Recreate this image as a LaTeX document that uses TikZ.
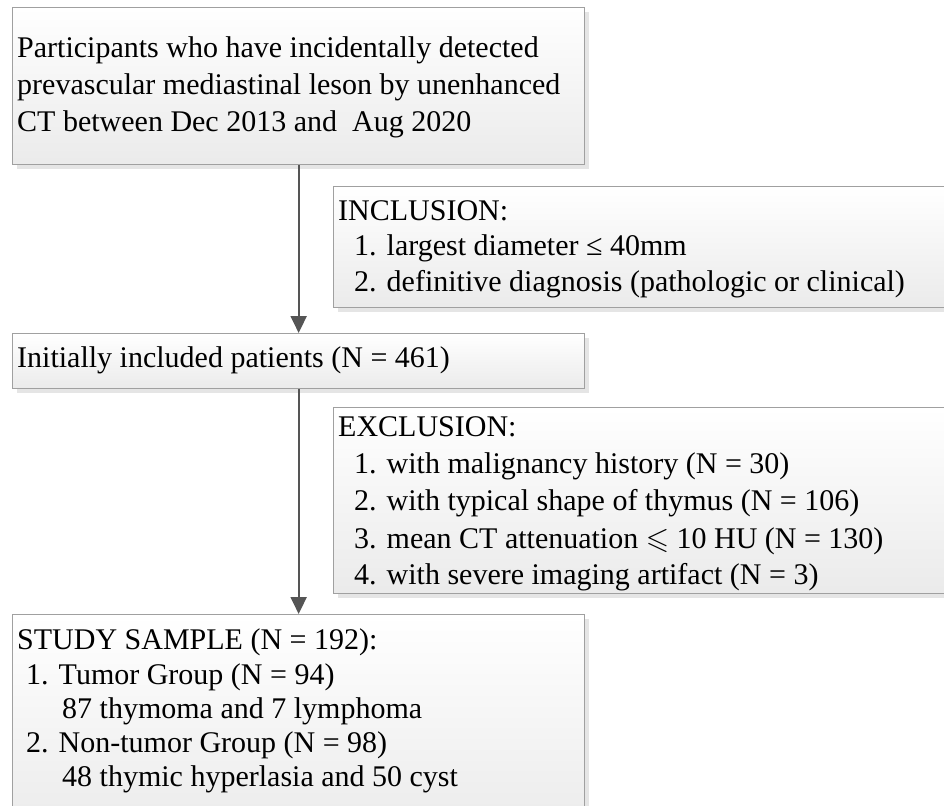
\documentclass[tikz,border=0pt]{standalone}
\usepackage{amssymb}
\usepackage{fontspec}
\setmainfont{Liberation Serif}
\usetikzlibrary{arrows.meta,shadows}
\definecolor{edgec}{HTML}{A0A0A0}
\definecolor{arrowc}{HTML}{555555}
\begin{document}
\begin{tikzpicture}[x=1pt,y=-1pt,
  box/.style={draw=edgec, line width=1.3pt, top color=white, bottom color=black!8,
    anchor=north west, inner sep=0pt,
    drop shadow={shadow xshift=4pt, shadow yshift=-4pt, opacity=1, fill=black!10}},
  txt/.style={anchor=base west, inner sep=0pt, font=\fontsize{30}{36}\selectfont},
  arr/.style={draw=arrowc, line width=2pt, -{Triangle[width=16pt,length=17pt]}}]
\useasboundingbox (0,0) rectangle (944,805);
% boxes
\node[box, minimum width=572pt, minimum height=157pt] (top) at (12,7) {};
\node[box, minimum width=620pt, minimum height=121pt] (inc) at (333,186) {};
\node[box, minimum width=572pt, minimum height=55pt] (init) at (12,333) {};
\node[box, minimum width=620pt, minimum height=186pt] (exc) at (333,407) {};
\node[box, minimum width=572pt, minimum height=220pt] (study) at (12,614) {};
% arrows
\draw[arr] (top) -- (init);
\draw[arr] (init) -- (study);
% texts
\node[txt] (t1) at (17,58) {Participants who have incidentally detected};
\node[txt] (t2) at (17,95) {prevascular mediastinal leson by unenhanced};
\node[txt] (t3) at (17,132) {CT between Dec 2013 and\ \ Aug 2020};
\node[txt] (i0) at (338,220) {INCLUSION:};
\node[txt] (i1) at (354,255) {1. largest diameter ≤ 40mm};
\node[txt] (i2) at (354,291) {2. definitive diagnosis (pathologic or clinical)};
\node[txt] (n0) at (17,367) {Initially included patients (N = 461)};
\node[txt] (e0) at (338,436) {EXCLUSION:};
\node[txt] (e1) at (354,473) {1. with malignancy history (N = 30)};
\node[txt] (e2) at (354,510) {2. with typical shape of thymus (N = 106)};
\node[txt] (e3) at (354,548) {3. mean CT attenuation $\leqslant$ 10 HU (N = 130)};
\node[txt] (e4) at (354,584) {4. with severe imaging artifact (N = 3)};
\node[txt] (s0) at (17,649) {STUDY SAMPLE (N = 192):};
\node[txt] (s1) at (26,684) {1. Tumor Group (N = 94)};
\node[txt] (s2) at (62,718) {87 thymoma and 7 lymphoma};
\node[txt] (s3) at (26,752) {2. Non-tumor Group (N = 98)};
\node[txt] (s4) at (62,786) {48 thymic hyperlasia and 50 cyst};
\end{tikzpicture}
\end{document}
